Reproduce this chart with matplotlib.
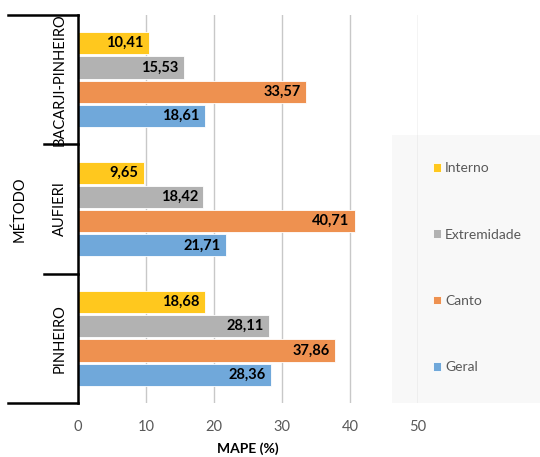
import matplotlib.pyplot as plt
from matplotlib.patches import Rectangle
from matplotlib.transforms import blended_transform_factory

# MAPE por método e por tipo de posição
metodos = ["PINHEIRO", "AUFIERI", "BACARJI-PINHEIRO"]
series = ["Interno", "Extremidade", "Canto", "Geral"]
interno = [18.68, 9.65, 10.41]
extremidade = [28.11, 18.42, 15.53]
canto = [37.86, 40.71, 33.57]
geral = [28.36, 21.71, 18.61]
x_ticks = [0, 10, 20, 30, 40, 50]

valores = [interno, extremidade, canto, geral]
cores = ["#FFC81E", "#B2B2B2", "#EE9150", "#70A8DA"]
offsets = [0.28125, 0.09375, -0.09375, -0.28125]
altura = 0.172

plt.rcParams['font.family'] = ['Lato', 'DejaVu Sans']

fig = plt.figure(figsize=(5.4, 4.57), dpi=100)
ax = fig.add_axes([78 / 540, 1 - 403 / 457, 340 / 540, 388 / 457])
ax.set_facecolor("none")

# fundo da legenda, por baixo das linhas de grade
ax.add_patch(Rectangle((392 / 540, 1 - 403 / 457), 148 / 540, 268 / 457,
                       transform=fig.transFigure, facecolor="#F8F8F8",
                       edgecolor="none", zorder=0.5, clip_on=False))

for vals, cor, off, nome in zip(valores, cores, offsets, series):
    for i, v in enumerate(vals):
        ax.barh(i + off, v, height=altura, color=cor, edgecolor="white",
                linewidth=0.6, zorder=3, label=nome if i == 0 else None)
        ax.text(v - 0.8, i + off, f"{v:.2f}".replace(".", ","), ha="right",
                va="center", fontsize=10.5, fontweight="bold", color="black",
                zorder=4)

ax.set_xlim(0, 50)
ax.set_ylim(-0.5, 2.5)
ax.set_xticks(x_ticks)
ax.set_xticklabels([str(t) for t in x_ticks], color="#595959", fontsize=10.5)
ax.tick_params(axis="x", length=0, pad=12)
ax.set_yticks([])
ax.grid(axis="x", color="#C8C8C8", linewidth=1, zorder=1)
ax.set_axisbelow(False)
for s in ["top", "right", "bottom"]:
    ax.spines[s].set_visible(False)
ax.spines["left"].set_color("black")
ax.spines["left"].set_linewidth(1.8)
ax.spines["left"].set_zorder(5)
ax.set_xlabel("MAPE (%)", fontsize=10, fontweight="bold", labelpad=6)

# eixo de categorias agrupado
tr = blended_transform_factory(ax.transAxes, ax.transData)
for y in [-0.5, 0.5, 1.5, 2.5]:
    x0 = -0.206 if y in (-0.5, 2.5) else -0.1
    ax.plot([x0, 0], [y, y], color="black", linewidth=1.8, transform=tr,
            clip_on=False, zorder=5)
for i, m in enumerate(metodos):
    ax.text(-0.053, i, m, rotation=90, ha="center", va="center",
            fontsize=10.5, transform=tr)
ax.text(-0.171, 1, "MÉTODO", rotation=90, ha="center", va="center",
        fontsize=10.5, transform=tr)

handles, labels = ax.get_legend_handles_labels()
fig.legend(handles, labels, loc="upper left", bbox_to_anchor=(420 / 540, 1 - 150 / 457),
           frameon=False, fontsize=10, handlelength=0.6, handleheight=0.6,
           handletextpad=0.3, labelspacing=3.9, labelcolor="#595959")

fig.savefig("out.png", dpi=100)
